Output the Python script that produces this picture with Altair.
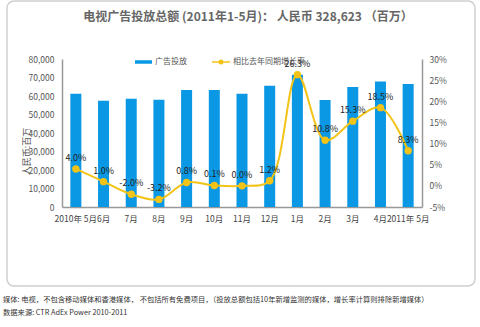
import altair as alt
import pandas as pd

months = ["2010年 5月", "6月", "7月", "8月", "9月", "10月", "11月", "12月",
          "1月", "2月", "3月", "4月", "2011年 5月"]
spend = [61200, 57500, 58500, 58000, 63200, 63200, 61200, 65600,
         71500, 57800, 64900, 67800, 66500]
growth = [4.0, 1.0, -2.0, -3.2, 0.8, 0.1, 0.0, 1.2, 26.3, 10.8, 15.3, 18.5, 8.3]
growth_labels = ["4.0%", "1.0%", "-2.0%", "-3.2%", "0.8%", "0.1%", "0.0%", "1.2%",
                 "26.3%", "10.8%", "15.3%", "18.5%", "8.3%"]

title_text = "电视广告投放总额 (2011年1-5月)： 人民币 328,623 （百万）"
legend_items = ["广告投放", "相比去年同期增长率"]
note1 = "媒体: 电视，不包含移动媒体和香港媒体， 不包括所有免费项目，（投放总额包括10年新增监测的媒体，增长率计算则排除新增媒体）"
note2 = "数据来源: CTR AdEx Power 2010-2011"

df = pd.DataFrame({"month": months, "spend": spend, "growth": growth, "label": growth_labels})

FONT = "Noto Sans CJK SC"
BLUE = "#0A97E3"
GOLD = "#F3C317"

xenc = alt.X("month:N", sort=months, title=None,
             scale=alt.Scale(paddingInner=0, paddingOuter=0),
             axis=alt.Axis(labelAngle=0, ticks=False, labelPadding=7, labelFontSize=8.5,
                           labelColor="#444", domainColor="#999", domainWidth=1.5,
                           labelFont=FONT, labelOverlap=False))

bars = alt.Chart(df).mark_bar(color=BLUE, size=11).encode(
    x=xenc,
    y=alt.Y("spend:Q", scale=alt.Scale(domain=[0, 80000]),
            axis=alt.Axis(values=list(range(0, 80001, 10000)), format=",.0f",
                          title="人民币:百万", titleFontSize=9, titleFontWeight="normal",
                          titleColor="#555", titleFont=FONT, titleX=-36, titleY=92,
                          titleBaseline="middle", titleAngle=270,
                          labelFontSize=8.5, labelColor="#555", labelFont=FONT,
                          ticks=False, labelPadding=8, grid=False, labelOverlap=False,
                          domainColor="#999", domainWidth=1.5))
)

right_axis = alt.Axis(orient="right", values=list(range(-5, 31, 5)),
                      labelExpr="datum.value + '%'", title=None,
                      labelFontSize=8.5, labelColor="#555", labelFont=FONT,
                      ticks=False, labelPadding=7, grid=False, labelOverlap=False,
                      domainColor="#999", domainWidth=1.5)
yright = alt.Y("growth:Q", scale=alt.Scale(domain=[-5, 30]), axis=right_axis)
xm = alt.X("month:N", sort=months)

line = alt.Chart(df).mark_line(color=GOLD, strokeWidth=2, interpolate="catmull-rom").encode(
    x=xm, y=yright)
pts = alt.Chart(df).mark_point(color=GOLD, filled=True, size=55, opacity=1).encode(
    x=xm, y=yright)
labels = alt.Chart(df).mark_text(dy=-11, fontSize=9, color="#222", font=FONT).encode(
    x=xm, y=yright, text="label:N")

right = alt.layer(line, pts, labels)

one = pd.DataFrame({"a": [0]})
frame = alt.Chart(one).mark_rect(fill=None, stroke="#cfcfcf", strokeWidth=1.5, cornerRadius=7).encode(
    x=alt.value(-55), x2=alt.value(413), y=alt.value(-58), y2=alt.value(227))

title = alt.Chart(one).mark_text(align="center", baseline="middle", fontSize=12,
                                 fontWeight="bold", color="#666", font=FONT).encode(
    x=alt.value(186), y=alt.value(-42), text=alt.value(title_text))

leg_bar = alt.Chart(one).mark_rule(color=BLUE, strokeWidth=3.5).encode(
    x=alt.value(73), x2=alt.value(90), y=alt.value(3))
leg_line = alt.Chart(one).mark_rule(color=GOLD, strokeWidth=1.5).encode(
    x=alt.value(150), x2=alt.value(168), y=alt.value(3))
leg_pt = alt.Chart(one).mark_point(color=GOLD, filled=True, size=25, opacity=1).encode(
    x=alt.value(159), y=alt.value(3))
leg_t1 = alt.Chart(one).mark_text(align="left", baseline="middle", fontSize=8, color="#555", font=FONT).encode(
    x=alt.value(93), y=alt.value(3), text=alt.value(legend_items[0]))
leg_t2 = alt.Chart(one).mark_text(align="left", baseline="middle", fontSize=8, color="#555", font=FONT).encode(
    x=alt.value(171), y=alt.value(3), text=alt.value(legend_items[1]))

n1 = alt.Chart(one).mark_text(align="left", baseline="middle", fontSize=7.3, color="#333", font=FONT).encode(
    x=alt.value(-59), y=alt.value(241), text=alt.value(note1))
n2 = alt.Chart(one).mark_text(align="left", baseline="middle", fontSize=7.3, color="#333", font=FONT).encode(
    x=alt.value(-59), y=alt.value(254), text=alt.value(note2))

chart = alt.layer(frame, title, bars, right, leg_bar, leg_line, leg_pt, leg_t1, leg_t2, n1, n2).resolve_scale(
    y="independent"
).properties(
    width=360, height=148,
    padding={"left": 62, "top": 59, "right": 58, "bottom": 120},
    autosize=alt.AutoSizeParams(type="none"),
    background="white",
).configure_view(stroke=None)

chart.save("out.html", embed_options={"renderer": "svg", "actions": False})
